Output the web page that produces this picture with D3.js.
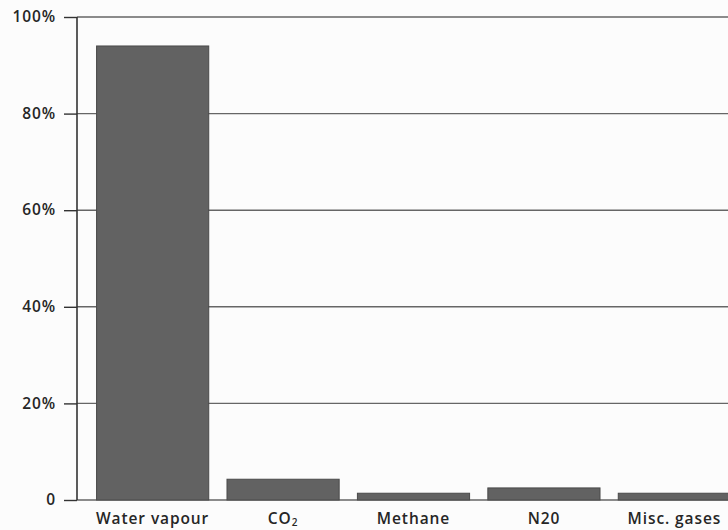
<!DOCTYPE html>
<html>
<head>
<meta charset="utf-8">
<script src="https://cdn.jsdelivr.net/npm/d3@7"></script>
<style>
  html, body { margin: 0; padding: 0; background: #fcfcfc; }
  svg { display: block; }
  .grid line { stroke: #666; stroke-width: 1.4; }
  .axis-label { font-family: "Open Sans", sans-serif; font-size: 15.5px; font-weight: 600; fill: #262626; letter-spacing: 0.9px; }
</style>
</head>
<body>
<svg id="chart" width="728" height="530"></svg>
<script>
// -----------------------------------------------------------------------------

var gases = ['Water vapour', 'CO2', 'Methane', 'N20', 'Misc. gases'];
var shares = [94, 4.3, 1.4, 2.5, 1.4];
var tickValues = [0, 20, 40, 60, 80, 100];
var tickLabels = ['0', '20%', '40%', '60%', '80%', '100%'];

// -----------------------------------------------------------------------------

var svg = d3.select('#chart');

var axisX = 77;

var x = d3.scaleBand()
  .domain(gases)
  .range([axisX, 750])
  .paddingInner(0.14)
  .paddingOuter(0.15);

var y = d3.scaleLinear()
  .domain([0, 100])
  .range([500, 17]);

// - - - - - - - - - - - - - - - - - - - - - - - - - - - - - - - - - - - - - -

var gGrid = svg.append('g').classed('grid', true);
gGrid
  .selectAll('line')
  .data(tickValues)
  .join('line')
  .attr('x1', axisX)
  .attr('x2', 728)
  .attr('y1', function (d) { return y(d); })
  .attr('y2', function (d) { return y(d); });

// - - - - - - - - - - - - - - - - - - - - - - - - - - - - - - - - - - - - - -

var gBars = svg.append('g');
gBars
  .selectAll('rect')
  .data(gases)
  .join('rect')
  .attr('x', function (d) { return x(d); })
  .attr('width', x.bandwidth())
  .attr('y', function (d, i) { return y(shares[i]); })
  .attr('height', function (d, i) { return y(0) - y(shares[i]); })
  .attr('fill', '#626262')
  .attr('stroke', '#4a4a4a')
  .attr('stroke-width', 1);

// - - - - - - - - - - - - - - - - - - - - - - - - - - - - - - - - - - - - - -

var yAxis = d3.axisLeft(y)
  .tickValues(tickValues)
  .tickFormat(function (d, i) { return tickLabels[i]; })
  .tickSize(13)
  .tickPadding(8);

var gY = svg.append('g')
  .attr('transform', 'translate(' + axisX + ',0)')
  .call(yAxis);
gY.select('.domain')
  .attr('d', 'M0,' + y(100) + 'V' + y(0))
  .attr('stroke', '#333')
  .attr('stroke-width', 1.6);
gY.selectAll('.tick line')
  .attr('stroke', '#333')
  .attr('stroke-width', 1.4);
gY.selectAll('.tick text')
  .attr('class', 'axis-label')
  .attr('dy', '0.3em');

// - - - - - - - - - - - - - - - - - - - - - - - - - - - - - - - - - - - - - -

var gX = svg.append('g');
var xLabels = gX
  .selectAll('text')
  .data(gases)
  .join('text')
  .attr('class', 'axis-label')
  .attr('x', function (d) { return x(d) + x.bandwidth() / 2; })
  .attr('y', 524)
  .attr('text-anchor', 'middle');

xLabels.each(function (d) {
  var t = d3.select(this);
  if (d === 'CO2') {
    t.append('tspan').text('CO');
    t.append('tspan')
      .attr('font-size', '10px')
      .attr('dy', '0.2em')
      .text('2');
  } else {
    t.text(d);
  }
});

// -----------------------------------------------------------------------------
</script>
</body>
</html>
